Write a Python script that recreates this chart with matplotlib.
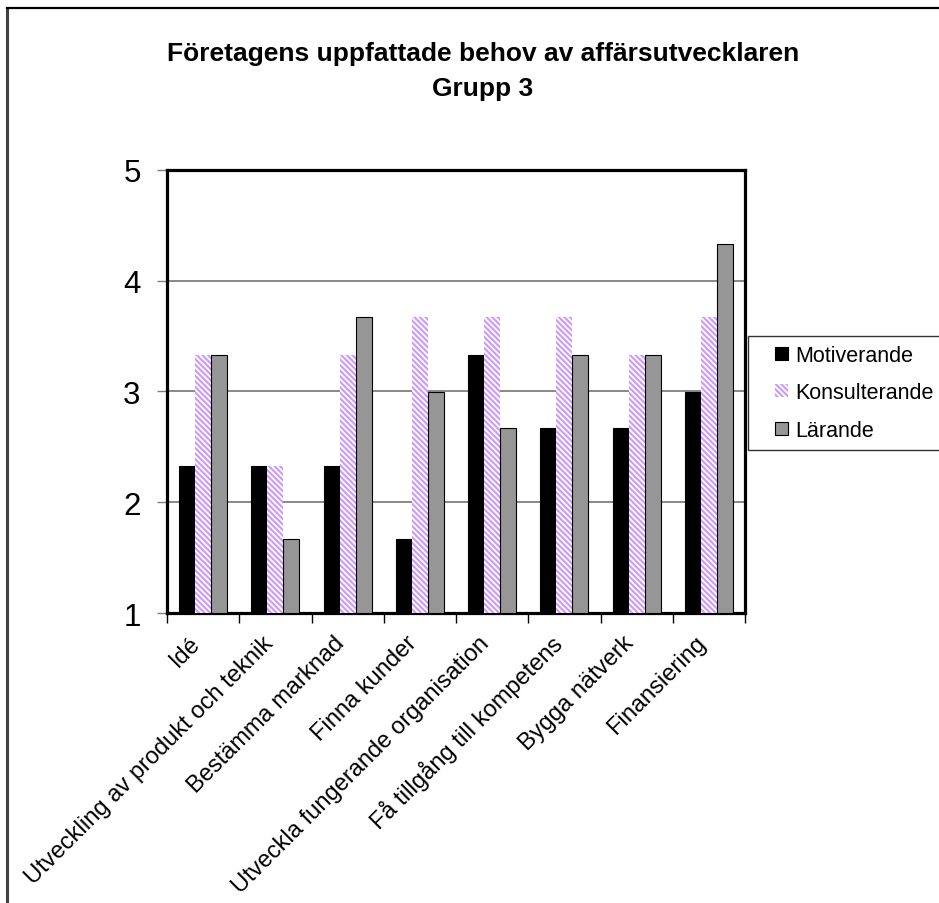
import matplotlib
matplotlib.use("Agg")
import matplotlib.pyplot as plt
from matplotlib.lines import Line2D
from matplotlib.patches import Rectangle
from matplotlib.container import BarContainer
from matplotlib.legend_handler import HandlerPatch, update_from_first_child
from matplotlib.transforms import ScaledTranslation
import numpy as np

plt.rcParams['font.family'] = ['Liberation Sans', 'DejaVu Sans']
plt.rcParams['hatch.linewidth'] = 1.3

categories = ["Idé", "Utveckling av produkt och teknik", "Bestämma marknad",
              "Finna kunder", "Utveckla fungerande organisation",
              "Få tillgång till kompetens", "Bygga nätverk", "Finansiering"]
motiverande = [2.33, 2.33, 2.33, 1.67, 3.33, 2.67, 2.67, 3.0]
konsulterande = [3.33, 2.33, 3.33, 3.67, 3.67, 3.67, 3.33, 3.67]
larande = [3.33, 1.67, 3.67, 3.0, 2.67, 3.33, 3.33, 4.33]
series_names = ["Motiverande", "Konsulterande", "Lärande"]

fig = plt.figure(figsize=(9.39, 9.04), dpi=100)
ax = fig.add_axes([167 / 939, 290 / 904, 578 / 939, 443 / 904])

x = np.arange(len(categories))
w = 0.222
base = 1.0

ax.bar(x - w, np.array(motiverande) - base, w, bottom=base, color="black",
       edgecolor="black", linewidth=0.8, label=series_names[0], zorder=3)
ax.bar(x, np.array(konsulterande) - base, w, bottom=base, color="#CC99FF",
       edgecolor="white", hatch="\\\\\\\\\\\\", linewidth=0,
       label=series_names[1], zorder=3)
ax.bar(x + w, np.array(larande) - base, w, bottom=base, color="#969696",
       edgecolor="black", linewidth=0.8, label=series_names[2], zorder=3)

ax.set_xlim(-0.5, len(categories) - 0.5)
ax.set_ylim(1, 5)
ax.set_yticks([1, 2, 3, 4, 5])
ax.tick_params(axis='y', labelsize=22.5, length=7, width=1, color="#808080", pad=12)
ax.yaxis.grid(True, color="#808080", linewidth=1.3, zorder=0)
ax.set_axisbelow(True)

ax.set_xticks(x)
ax.set_xticklabels(categories, rotation=45, ha="right", va="center",
                   rotation_mode="anchor", fontsize=17)
ax.tick_params(axis='x', which='major', length=0, pad=19)
ax.set_xticks(np.arange(-0.5, len(categories)), minor=True)
ax.tick_params(axis='x', which='minor', length=7, width=1, color="black")
shift = ScaledTranslation(-6 / 100, 0, fig.dpi_scale_trans)
for lab in ax.get_xticklabels():
    lab.set_transform(lab.get_transform() + shift)

for s in ax.spines.values():
    s.set_linewidth(2.3)
    s.set_color("black")

fig.suptitle("Företagens uppfattade behov av affärsutvecklaren\nGrupp 3",
             x=483 / 939, y=1 - 42 / 904, va="top", fontsize=19,
             fontweight="bold", linespacing=1.6)


# small square legend keys sitting at the right of the key slot
def small_key(legend, orig_handle, xdescent, ydescent, width, height, fontsize):
    s = 0.6 * fontsize
    return Rectangle((-xdescent + width - s, -ydescent + (height - s) / 2), s, s)


leg = ax.legend(loc="upper left", bbox_to_anchor=(748 / 939, 1 - 337 / 904),
                bbox_transform=fig.transFigure, borderaxespad=0,
                fontsize=15.5, frameon=True, fancybox=False, shadow=False,
                handlelength=1.45, handleheight=0.7, handletextpad=0.35,
                labelspacing=0.78, borderpad=0.4,
                handler_map={BarContainer: HandlerPatch(
                    patch_func=small_key, update_func=update_from_first_child)})
leg.get_frame().set_edgecolor("black")
leg.get_frame().set_linewidth(1.0)

# outer chart border
fig.add_artist(Line2D([7 / 939, 7 / 939], [0, 1 - 9 / 904], color="#404040",
                      linewidth=2.2, transform=fig.transFigure))
fig.add_artist(Line2D([7 / 939, 1], [1 - 9 / 904, 1 - 9 / 904], color="black",
                      linewidth=1.6, transform=fig.transFigure))

fig.savefig("out.png", dpi=100)
